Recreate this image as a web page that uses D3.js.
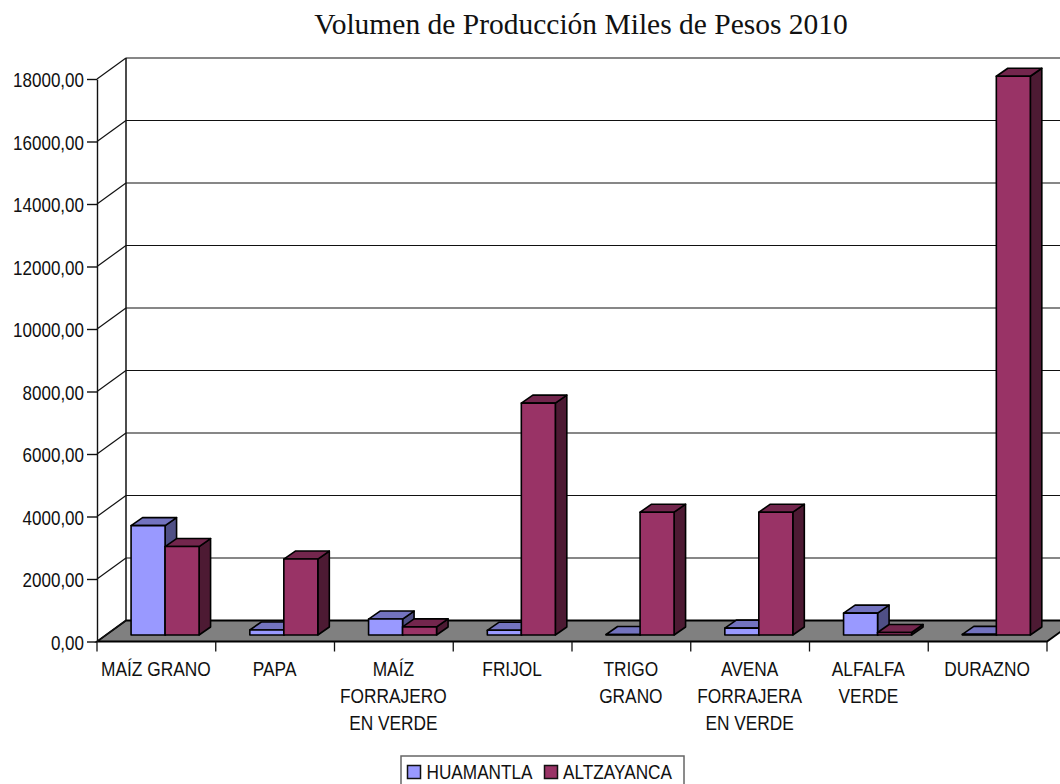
<!DOCTYPE html>
<html>
<head>
<meta charset="utf-8">
<script src="https://d3js.org/d3.v7.min.js"></script>
<style>
  html, body { margin: 0; padding: 0; background: #fff; }
  svg { display: block; }
  text { font-family: "Liberation Sans", Arial, sans-serif; fill: #111; }
</style>
</head>
<body>
<svg width="1060" height="784"></svg>
<script>
// **** Data ****
var categories = ["MAÍZ GRANO", "PAPA", "MAÍZ FORRAJERO EN VERDE", "FRIJOL", "TRIGO GRANO", "AVENA FORRAJERA EN VERDE", "ALFALFA VERDE", "DURAZNO"];
var categoryLines = [["MAÍZ GRANO"], ["PAPA"], ["MAÍZ", "FORRAJERO", "EN VERDE"], ["FRIJOL"], ["TRIGO", "GRANO"], ["AVENA", "FORRAJERA", "EN VERDE"], ["ALFALFA", "VERDE"], ["DURAZNO"]];
var huamantla = [3500, 160, 510, 150, 15, 220, 700, 20];
var altzayanca = [2830, 2430, 260, 7420, 3930, 3930, 80, 17880];
var yTicks = [0, 2000, 4000, 6000, 8000, 10000, 12000, 14000, 16000, 18000];
var seriesNames = ["HUAMANTLA", "ALTZAYANCA"];

// **** Scales ****
var depthX = 29, depthY = 21;       // offset of the back wall
var barDepthX = 11.5, barDepthY = 8; // depth of a bar
var barShiftX = 8.7, barShiftY = 6.5; // bars stand a bit behind the front edge

var yScale = d3.scaleLinear().domain([0, 18000]).range([641.5, 79]);
var xScale = d3.scaleBand().domain(categories).range([97, 1047]).paddingInner(0.4274).paddingOuter(0.2137);
var seriesScale = d3.scaleBand().domain(seriesNames).range([0, xScale.bandwidth()]);

var colors = {
    HUAMANTLA: { front: "#9999ff", top: "#7373bf", side: "#4f4f85" },
    ALTZAYANCA: { front: "#993366", top: "#73264d", side: "#4d1a33" }
};

var svg = d3.select("svg");
var y0 = yScale(0), yTop = yScale(18000);
var xLeft = xScale.range()[0], xRight = xScale.range()[1];

// the labels in the picture are a narrow Arial, so squeeze the glyphs a bit
function squeeze(selection, factor) {
    selection.each(function() {
        var len = this.getComputedTextLength();
        d3.select(this).attr("textLength", len * factor).attr("lengthAdjust", "spacingAndGlyphs");
    });
}

// **** Walls and floor ****
svg.append("polygon")
    .attr("points", [[xLeft, y0], [xRight, y0], [xRight + depthX, y0 - depthY], [xLeft + depthX, y0 - depthY]].join(" "))
    .attr("fill", "#808080")
    .attr("stroke", "#000")
    .attr("stroke-width", 1.8);

var grid = svg.append("g").attr("fill", "none").attr("stroke", "#111").attr("stroke-width", 1.2);

yTicks.forEach(function(t) {
    var y = yScale(t);
    if (t > 0) {
        grid.append("line").attr("x1", xLeft + depthX).attr("x2", 1060)
            .attr("y1", y - depthY).attr("y2", y - depthY);
    }
    grid.append("line").attr("x1", xLeft).attr("x2", xLeft + depthX)
        .attr("y1", y).attr("y2", y - depthY);
});

grid.append("line").attr("x1", xLeft + depthX).attr("x2", xLeft + depthX)
    .attr("y1", yTop - depthY).attr("y2", y0 - depthY)
    .attr("stroke-width", 1.5);

// **** Axes ****
var yAxis = d3.axisLeft(yScale)
    .tickValues(yTicks)
    .tickSize(10)
    .tickSizeOuter(0)
    .tickPadding(3)
    .tickFormat(function(d) { return d + ",00"; });

var yG = svg.append("g").attr("transform", "translate(" + xLeft + ",0)").call(yAxis);
yG.selectAll("text")
    .style("font-size", "20px")
    .style("font-family", '"Liberation Sans", Arial, sans-serif')
    .attr("fill", "#111")
    .attr("dy", 7.5)
    .call(squeeze, 0.85);
yG.selectAll("line, path").attr("stroke", "#111").attr("stroke-width", 1.4);

var boundaries = categories.map(function(c) { return xScale(c) - xScale.step() * 0.2137; }).concat([xRight]);

svg.append("g").selectAll("line")
    .data(boundaries)
    .enter().append("line")
    .attr("x1", function(d) { return d; })
    .attr("x2", function(d) { return d; })
    .attr("y1", y0)
    .attr("y2", y0 + 10)
    .attr("stroke", "#111")
    .attr("stroke-width", 1.3);

var lineYs = [676, 703, 730];

categories.forEach(function(c, i) {
    var cx = xScale(c) + xScale.bandwidth() / 2 - 0.5;
    svg.append("g").selectAll("text")
        .data(categoryLines[i])
        .enter().append("text")
        .attr("x", cx)
        .attr("y", function(d, j) { return lineYs[j]; })
        .attr("text-anchor", "middle")
        .style("font-size", "20px")
        .text(function(d) { return d; })
        .call(squeeze, 0.865);
});

// **** Bars ****
var barStroke = { stroke: "#000", width: 1.6 };

function drawBar(g, name, category, value) {
    var x = xScale(category) + seriesScale(name) + barShiftX;
    var w = seriesScale.bandwidth();
    var yb = y0 - barShiftY;
    var yt = yb - (y0 - yScale(value));
    var c = colors[name];

    function face(points, fill) {
        g.append("polygon")
            .attr("points", points.join(" "))
            .attr("fill", fill)
            .attr("stroke", barStroke.stroke)
            .attr("stroke-width", barStroke.width)
            .attr("stroke-linejoin", "round");
    }
    face([[x + w, yb], [x + w + barDepthX, yb - barDepthY], [x + w + barDepthX, yt - barDepthY], [x + w, yt]], c.side);
    face([[x, yt], [x + w, yt], [x + w + barDepthX, yt - barDepthY], [x + barDepthX, yt - barDepthY]], c.top);
    face([[x, yb], [x + w, yb], [x + w, yt], [x, yt]], c.front);
}

var bars = svg.append("g");
categories.forEach(function(c, i) {
    drawBar(bars, "HUAMANTLA", c, huamantla[i]);
    drawBar(bars, "ALTZAYANCA", c, altzayanca[i]);
});

// **** Title ****
svg.append("text")
    .attr("x", 581)
    .attr("y", 34)
    .attr("text-anchor", "middle")
    .style("font-family", '"Liberation Serif", "Times New Roman", serif')
    .style("font-size", "29.5px")
    .text("Volumen de Producción Miles de Pesos 2010");

// **** Legend ****
var legend = svg.append("g");
legend.append("rect")
    .attr("x", 401).attr("y", 756).attr("width", 283).attr("height", 30)
    .attr("fill", "#fff").attr("stroke", "#666").attr("stroke-width", 1.5);

var legendX = [{ box: 407.5, text: 426.5 }, { box: 544.5, text: 563 }];
seriesNames.forEach(function(name, i) {
    legend.append("rect")
        .attr("x", legendX[i].box).attr("y", 765.5).attr("width", 13).attr("height", 13)
        .attr("fill", colors[name].front).attr("stroke", "#111").attr("stroke-width", 1.5);
    legend.append("text")
        .attr("x", legendX[i].text).attr("y", 778.5)
        .style("font-size", "20px")
        .text(name)
        .call(squeeze, 0.86);
});
</script>
</body>
</html>
